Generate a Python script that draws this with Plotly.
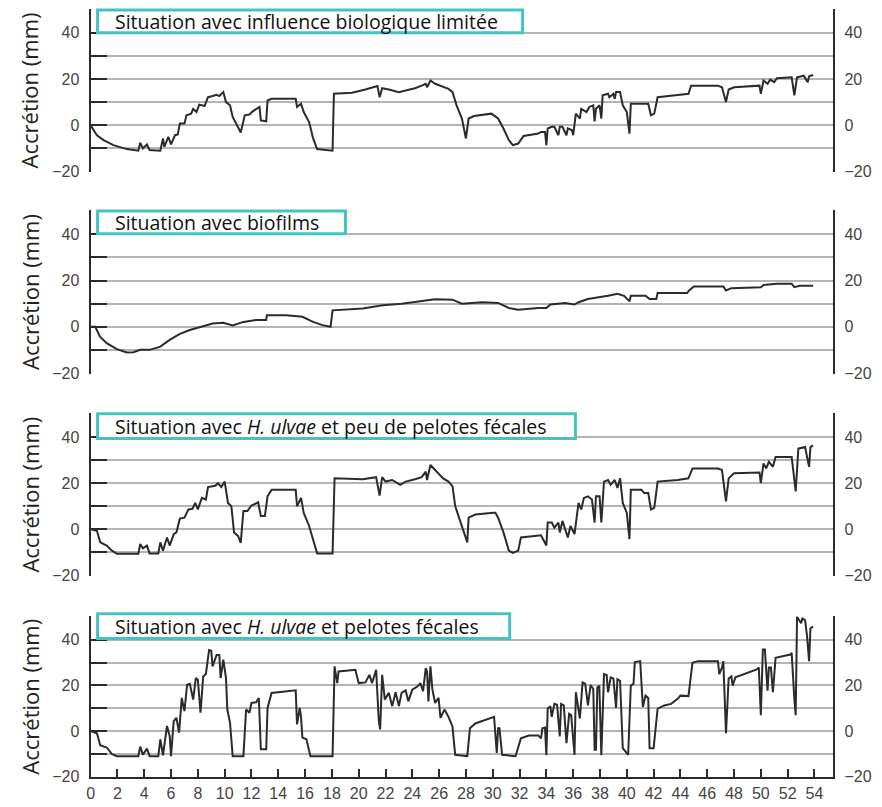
import plotly.graph_objects as go

# ---- data: accretion (mm) versus time (days), one list of (day, mm) per scenario ----
limitee = [
    (0, 0), (0.47, -4.3), (0.97, -6.4), (1.7, -8.6), (2.7, -10.3), (3.4, -10.7), (3.56, -11),
    (3.7, -7.6), (3.9, -10), (4.2, -8.3), (4.4, -10.7), (5.2, -11), (5.4, -5.7), (5.5, -9.3),
    (5.8, -5), (6.0, -8.3), (6.3, -4.3), (6.5, -4), (6.66, 0.7), (7.0, 0.7), (7.15, 4.3),
    (7.5, 5), (7.65, 7), (7.9, 5.7), (8.1, 8.9), (8.5, 8.3), (8.76, 12.1), (9.1, 12.6),
    (9.4, 13.1), (9.6, 12.6), (9.9, 14.3), (10.1, 10), (10.4, 8.6), (10.6, 3.6), (11.0, -0.7),
    (11.2, -3.1), (11.5, 4.3), (11.85, 4.6), (12.1, 6), (12.6, 7.9), (12.7, 2.1), (13.1, 1.7),
    (13.2, 10.7), (13.5, 11.4), (15.3, 11.4), (15.4, 7.9), (15.7, 9.3), (15.9, 5.7), (16.3, 1.4),
    (16.6, -5.7), (16.9, -10.3), (18.05, -11), (18.15, 13.6), (19.5, 14), (20.5, 15.4),
    (21.0, 16.4), (21.4, 16.9), (21.56, 12.1), (21.75, 16), (22.25, 15.4), (23.0, 14.3),
    (23.5, 15), (24.2, 16), (24.7, 17.1), (25.0, 17.9), (25.1, 16.4), (25.35, 19.3), (25.7, 17.9),
    (26.2, 16.9), (26.7, 15.7), (27.0, 14.3), (27.3, 8.6), (27.7, 2.9), (28.0, -5.7), (28.2, 2.9),
    (28.6, 4), (29.9, 5), (30.4, 2.9), (30.8, -1.4), (31.2, -6.4), (31.5, -8.6), (31.9, -7.9),
    (32.3, -4.6), (33.4, -3.6), (33.6, -2.9), (33.9, -2.9), (34.0, -8.6), (34.1, -1.4),
    (34.4, -0.7), (34.6, -0.7), (34.9, -4.3), (35.0, -0.7), (35.2, -0.7), (35.5, -4.3),
    (35.6, -1.4), (35.9, -2.1), (36.0, -4.3), (36.2, 5), (36.5, 2.9), (36.6, 7.1), (37.0, 5.7),
    (37.2, 7.9), (37.5, 8.6), (37.6, 1.7), (37.7, 7.1), (37.97, 8.6), (38.1, 2.9), (38.2, 12.9),
    (38.6, 13.6), (38.7, 12.1), (39.0, 13.6), (39.1, 11.4), (39.2, 14.3), (39.5, 14.3),
    (39.7, 8.6), (40.0, 5.7), (40.2, -3.6), (40.3, 9.3), (41.3, 9.3), (41.6, 9.3), (41.8, 4.3),
    (42.05, 5), (42.3, 12.1), (43.3, 12.9), (43.8, 13.1), (44.6, 13.6), (44.8, 17.1),
    (46.8, 17.1), (47.1, 16.4), (47.4, 10), (47.6, 15.4), (48.0, 16.4), (49.9, 17.1), (50.0, 13.6),
    (50.2, 19.3), (50.5, 17.9), (50.7, 19.7), (51.0, 18.6), (51.2, 20.3), (52.3, 20.7),
    (52.5, 12.9), (52.7, 20.7), (53.2, 21.4), (53.5, 18.6), (53.6, 21.1), (53.9, 21.7),
]

biofilms = [
    (0, 0), (0.35, 0), (0.7, -4.3), (1.2, -7.1), (1.96, -9.7), (2.7, -11.1), (3.2, -11),
    (3.7, -10), (4.4, -10), (5.2, -8.6), (5.9, -5.7), (6.66, -3.1), (7.4, -1.4), (8.4, 0.3),
    (9.1, 1.4), (9.9, 1.7), (10.6, 0.6), (11.4, 2.1), (12.35, 2.9), (13.1, 2.9), (13.15, 5),
    (14.6, 5), (15.8, 4.3), (16.6, 2.1), (17.3, 0.7), (17.9, 0), (18.05, 7.1), (20.3, 7.9),
    (21.8, 9.3), (23.2, 10), (25.0, 11.4), (25.7, 11.9), (27.0, 11.7), (27.7, 10), (29.2, 10.6),
    (30.4, 10.3), (31.2, 8.1), (31.9, 7.4), (33.4, 8.1), (34.0, 8.1), (34.3, 9.6), (35.4, 10.3),
    (36.1, 9.6), (36.4, 10.6), (37.1, 12), (37.6, 12.4), (38.1, 12.9), (38.6, 13.4), (39.3, 14.3),
    (39.6, 13.9), (39.8, 13.4), (40.2, 11), (40.3, 13.4), (41.4, 13.4), (41.7, 12), (42.2, 12),
    (42.3, 14.6), (44.5, 14.6), (44.65, 15.7), (45.0, 17.4), (47.2, 17.4), (47.4, 15.7),
    (47.8, 16.7), (50.0, 17.1), (50.2, 18.1), (51.2, 18.6), (52.3, 18.6), (52.5, 17.1),
    (52.9, 17.7), (53.9, 17.7),
]

peu_pelotes = [
    (0, 0), (0.47, -0.7), (0.72, -5.7), (1.2, -7.1), (1.6, -9.3), (1.96, -10.7), (3.56, -10.7),
    (3.7, -6.4), (3.9, -8.3), (4.2, -7.1), (4.4, -10.5), (5.05, -10.5), (5.2, -5.7), (5.4, -9.3),
    (5.7, -3.6), (5.9, -7.1), (6.2, -2.1), (6.4, -1.4), (6.66, 4.6), (7.0, 5), (7.3, 8.6),
    (7.6, 8.9), (7.8, 11.4), (8.0, 8.6), (8.3, 13.6), (8.6, 12.9), (8.76, 18.3), (9.3, 18.9),
    (9.5, 20), (9.75, 18.3), (10.0, 20.7), (10.25, 11.4), (10.5, 10), (10.7, -1.4), (11.0, -2.9),
    (11.2, -6), (11.4, 7.9), (11.7, 7.9), (12.0, 10.3), (12.5, 11.7), (12.7, 5.7), (13.0, 5.7),
    (13.2, 14.3), (13.5, 17.1), (15.3, 17.1), (15.4, 10), (15.7, 13.6), (15.9, 7.1), (16.3, 1.4),
    (16.6, -4.3), (16.9, -10.5), (18.05, -10.5), (18.2, 22.1), (20.3, 21.7), (21.3, 22.6),
    (21.56, 14.6), (21.75, 22.6), (22.0, 20.7), (22.5, 21.4), (23.1, 19.3), (23.5, 20.7),
    (24.2, 21.7), (24.7, 22.6), (25.0, 25), (25.1, 21.4), (25.35, 27.9), (25.7, 25.7),
    (26.1, 22.9), (26.3, 22.1), (26.7, 20.7), (27.0, 18.6), (27.2, 10), (27.6, 2.9),
    (28.1, -5.7), (28.2, 5), (28.7, 6.4), (30.05, 7.1), (30.2, 7.1), (30.4, 5), (30.8, -1.4),
    (31.2, -9.3), (31.5, -10.3), (31.9, -9.3), (32.1, -3.6), (33.6, -2.6), (34.0, -7.1),
    (34.1, 2.9), (34.4, 2.9), (34.6, 0.7), (34.9, 2.9), (35.0, -1.4), (35.2, 3.6), (35.6, -3.6),
    (35.8, 1.4), (36.1, -2.1), (36.4, 11.4), (36.6, 8.6), (36.8, 13.6), (37.1, 14.3),
    (37.4, 12.9), (37.6, 2.9), (37.7, 14.3), (37.97, 14.3), (38.1, 2.9), (38.3, 20.7),
    (38.6, 21.4), (38.8, 19.3), (39.1, 21.4), (39.3, 17.9), (39.5, 22.1), (39.7, 11.4),
    (40.0, 7.1), (40.2, -4.3), (40.3, 17.1), (41.1, 17.1), (41.3, 15.7), (41.6, 15.7),
    (41.8, 8.6), (42.05, 9.3), (42.3, 20.7), (43.8, 21.4), (44.6, 22.1), (44.9, 26.4),
    (46.8, 26.4), (47.1, 25.7), (47.4, 12.1), (47.6, 22.1), (48.0, 24.3), (49.9, 24.6),
    (50.0, 20), (50.2, 28.6), (50.4, 26.4), (50.6, 29.3), (50.9, 27.1), (51.1, 31.4),
    (52.3, 31.4), (52.6, 16.4), (52.8, 35), (53.3, 35.7), (53.6, 27.1), (53.7, 35.7),
    (53.9, 36.4),
]

pelotes = [
    (0, 0), (0.47, -1), (0.72, -6.2), (1.2, -7.2), (1.6, -10.1), (1.96, -11), (3.56, -11),
    (3.7, -6.8), (3.9, -10.4), (4.2, -7.7), (4.4, -11), (5.05, -11), (5.2, -3.6), (5.4, -10.6),
    (5.7, 2.2), (5.9, -2.2), (6.0, -11), (6.2, 4.3), (6.4, 5.8), (6.6, -0.7), (6.8, 14.5),
    (7.0, 8.7), (7.2, 20.3), (7.4, 20.7), (7.65, 13.8), (7.85, 23.2), (8.0, 22.5), (8.2, 8),
    (8.4, 23.9), (8.6, 25), (8.84, 35.5), (9.0, 35.2), (9.1, 28.3), (9.4, 33.3), (9.6, 33.3),
    (9.7, 23.2), (9.9, 31.2), (10.1, 23.2), (10.2, 9.4), (10.4, 3.6), (10.6, -11), (11.4, -11),
    (11.6, 9.4), (11.85, 8), (12.0, 12.3), (12.35, 12.6), (12.55, 14.5), (12.7, -8), (13.1, -8),
    (13.2, 10.1), (13.5, 16.7), (15.1, 17.8), (15.3, 17.8), (15.4, 2.9), (15.6, 10.1),
    (15.7, 6), (15.8, -2.9), (16.1, -3.6), (16.4, -11), (18.05, -11), (18.2, 28.3), (18.4, 21),
    (18.5, 26.1), (19.75, 26.8), (20.0, 21), (20.5, 21.3), (20.8, 24.6), (21.0, 21),
    (21.3, 26.8), (21.5, 4.3), (21.6, 0.7), (21.75, 24.6), (21.95, 13.8), (22.25, 16.7),
    (22.5, 10.9), (22.75, 17), (23.0, 10.9), (23.2, 16.7), (23.5, 17.8), (23.7, 13), (24.0, 18.1),
    (24.4, 19.6), (24.6, 21), (24.8, 17.4), (25.0, 27.5), (25.1, 26), (25.2, 13), (25.35, 28.3),
    (25.5, 18.1), (25.7, 12.3), (25.96, 14.5), (26.1, 5.8), (26.4, 9.4), (26.7, 6.2),
    (27.0, 1.9), (27.1, -4.6), (27.2, -10.4), (28.1, -11), (28.3, 1.2), (28.7, 3.3), (29.9, 5.5),
    (30.1, 6.2), (30.3, -9.6), (30.4, 1.2), (30.5, 1.2), (30.7, -10.4), (31.7, -11),
    (32.1, -3.2), (32.7, -2), (33.4, -2), (33.6, -3.2), (33.7, 1.2), (33.9, 1.5), (34.0, -10.6),
    (34.1, 9.8), (34.3, 10.9), (34.4, 6.2), (34.6, 11.9), (34.8, 11.5), (35.0, -2.4),
    (35.1, 11.9), (35.3, 11.2), (35.5, -5.3), (35.7, 7.6), (35.85, 7), (36.1, -10.4),
    (36.2, 17), (36.5, 5.5), (36.7, 21.3), (36.9, 20.6), (37.1, 11.2), (37.3, 20.1),
    (37.5, 18.4), (37.6, -8.2), (37.7, -8.2), (37.8, 19.1), (37.95, 19.8), (38.1, -10.6),
    (38.3, 24.9), (38.5, 24.5), (38.6, 17), (38.8, 23.5), (39.0, 23), (39.2, 10.1), (39.3, 22.7),
    (39.5, 22), (39.7, -7.5), (40.1, -10.4), (40.3, 19.9), (40.5, 20.6), (40.6, 30.2),
    (41.0, 30.6), (41.2, 10.5), (41.4, 15.5), (41.6, 14.5), (41.7, -7.5), (42.0, -7.5),
    (42.3, 9.8), (42.8, 11.2), (43.3, 11.9), (43.8, 14.1), (44.0, 15.5), (44.6, 15.3),
    (44.9, 29.9), (45.3, 30.6), (46.8, 30.6), (46.9, 24.9), (47.1, 27.8), (47.2, 30.6),
    (47.4, -1), (47.6, 23), (47.8, 23.9), (47.9, 19.9), (48.1, 23.5), (49.7, 27), (49.85, 27.8),
    (50.0, 6.9), (50.15, 35.7), (50.3, 35.7), (50.5, 17.7), (50.6, 27.8), (50.75, 27.8),
    (50.9, 17), (51.1, 32.1), (52.2, 33.5), (52.3, 34.2), (52.5, 14.1), (52.6, 6.9), (52.7, 50),
    (53.0, 47.2), (53.1, 49.3), (53.3, 48.6), (53.45, 41.4), (53.6, 30.6), (53.7, 45),
    (53.9, 45.7),
]

series = [limitee, biofilms, peu_pelotes, pelotes]
titres = [
    "Situation avec influence biologique limitée",
    "Situation avec biofilms",
    "Situation avec <i>H. ulvae</i> et peu de pelotes fécales",
    "Situation avec <i>H. ulvae</i> et pelotes fécales",
]
y_title = "Accrétion (mm)"
y_grid = [-20, -10, 0, 10, 20, 30, 40, 50]
y_labels = ["\u221220", "", "0", "", "20", "", "40", ""]
y_right_vals = [-20, 0, 20, 40]
y_right_text = ["\u221220", "0", "20", "40"]
x_ticks = list(range(0, 56, 2))

# ---- geometry (pixels) ----
W, H = 882, 807
X_LEFT, X_RIGHT = 87, 833
X_MAX = 55.4
Y_MIN, Y_MAX = -20, 50
PAD = 0.3  # small range padding so the -20 and 50 grid lines are drawn
panels_px = [(9.5, 173.3), (213.3, 376.7), (418.3, 581.0), (623.0, 784.5)]
boxes_px = [(94, 521, 10, 33), (94, 343, 213, 236), (94, 574, 418, 443), (94, 508, 620, 645)]


def fx(p):
    return p / W


def fy(p):
    return 1 - p / H


INK = "#2b2b2b"
GRID = "#b4b4b4"
TICKFONT = dict(family="Liberation Sans, Arial, sans-serif", size=16, color="#444444")
CYAN = "#45c3c3"

fig = go.Figure()
layout = dict(
    width=W, height=H,
    margin=dict(l=0, r=0, t=0, b=0),
    paper_bgcolor="white", plot_bgcolor="white",
    showlegend=False,
    shapes=[], annotations=[],
)

for i, (data, titre, (top, bot), box) in enumerate(zip(series, titres, panels_px, boxes_px)):
    n = i + 1
    xs = [d for d, _ in data]
    ys = [v for _, v in data]
    unit = (bot - top) / (Y_MAX - Y_MIN)
    top_e, bot_e = top - PAD * unit, bot + PAD * unit
    xa, ya, yr = f"xaxis{n if n > 1 else ''}", f"yaxis{n if n > 1 else ''}", f"yaxis{n + 4}"
    xref, yref = f"x{n if n > 1 else ''}", f"y{n if n > 1 else ''}"
    last = n == 4

    fig.add_trace(go.Scatter(x=xs, y=ys, mode="lines", xaxis=xref, yaxis=yref,
                             line=dict(color=INK, width=2), hoverinfo="skip"))
    # empty trace that carries the right-hand axis
    fig.add_trace(go.Scatter(x=[None], y=[None], mode="lines", xaxis=xref, yaxis=f"y{n + 4}",
                             hoverinfo="skip"))

    layout[xa] = dict(
        domain=[fx(X_LEFT), fx(X_RIGHT)], range=[0, X_MAX], anchor=yref,
        showgrid=False, zeroline=False,
        showline=last, linecolor=INK, linewidth=2,
        ticks="inside" if last else "", ticklen=8, tickwidth=2, tickcolor=INK,
        tickvals=x_ticks if last else [], showticklabels=last, tickfont=TICKFONT,
    )
    layout[ya] = dict(
        domain=[fy(bot_e), fy(top_e)], range=[Y_MIN - PAD, Y_MAX + PAD], anchor=xref,
        tickvals=y_grid, ticktext=y_labels, tickfont=TICKFONT,
        showgrid=True, gridcolor=GRID, gridwidth=1.5, zeroline=False,
        showline=True, linecolor=INK, linewidth=2,
        ticks="inside", ticklen=16, tickwidth=2, tickcolor=INK, ticklabelstandoff=6,
    )
    layout[yr] = dict(
        overlaying=yref, side="right", anchor=xref,
        range=[Y_MIN - PAD, Y_MAX + PAD],
        tickvals=y_right_vals, ticktext=y_right_text, tickfont=TICKFONT,
        showgrid=False, zeroline=False,
        showline=True, linecolor=INK, linewidth=2, ticks="", ticklabelstandoff=6,
    )

    # caption box
    x0, x1, y0, y1 = box
    layout["shapes"].append(dict(type="rect", xref="paper", yref="paper",
                                 x0=fx(x0), x1=fx(x1), y0=fy(y1), y1=fy(y0),
                                 line=dict(color=CYAN, width=3), fillcolor="white", layer="above"))
    layout["annotations"].append(dict(
        text=titre, xref="paper", yref="paper", x=fx(x0 + 15), y=fy((y0 + y1) / 2),
        xanchor="left", yanchor="middle", showarrow=False,
        font=dict(family="Open Sans, sans-serif", size=19.5, color="#111111"),
    ))
    # y-axis title
    layout["annotations"].append(dict(
        text=y_title, xref="paper", yref="paper", x=fx(26), y=fy((top + bot) / 2),
        xanchor="center", yanchor="middle", textangle=-90, showarrow=False,
        font=dict(family="Open Sans, sans-serif", size=22, color="#222222"),
    ))

fig.update_layout(**layout)
fig.write_html("out.html")
